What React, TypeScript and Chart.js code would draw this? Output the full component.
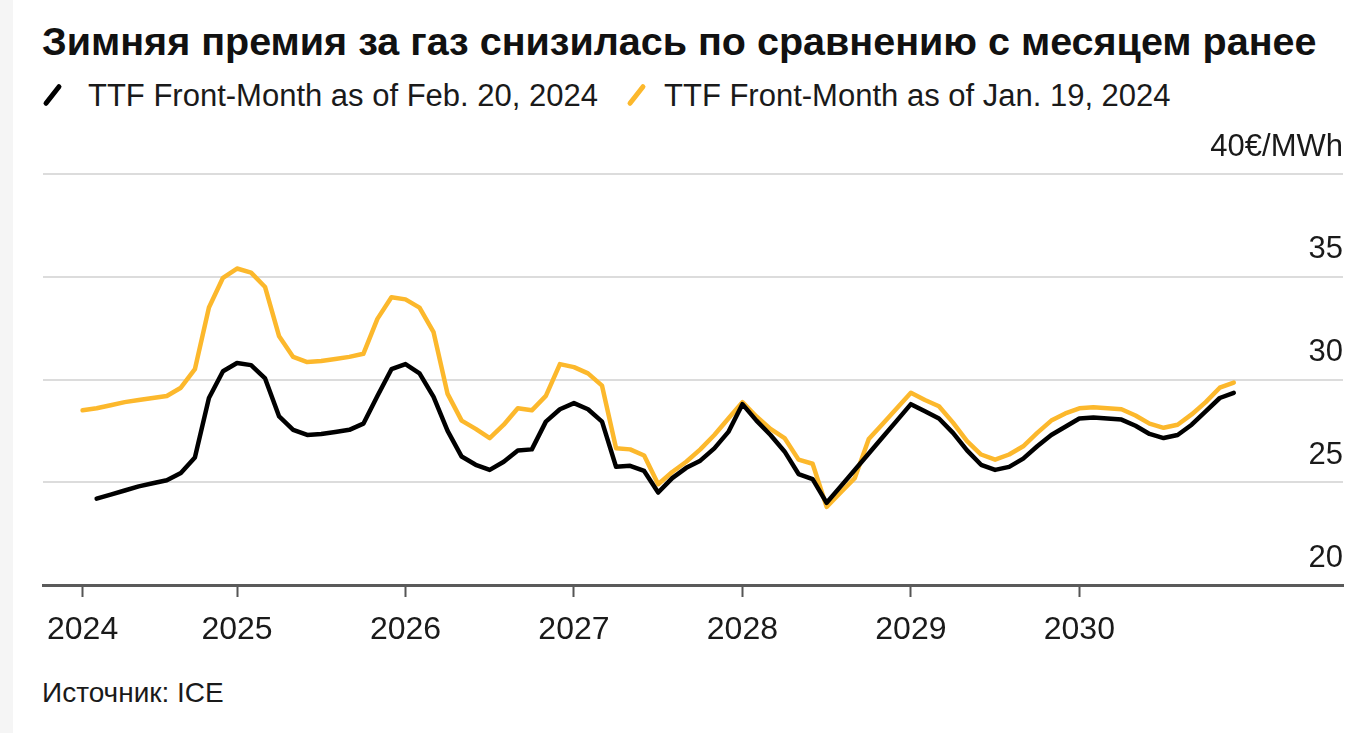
import React, { useEffect, useRef } from 'react';
import { Chart, registerables } from 'chart.js';

Chart.register(...registerables);

const TITLE = 'Зимняя премия за газ снизилась по сравнению с месяцем ранее';
const SERIES_NAMES = ['TTF Front-Month as of Feb. 20, 2024', 'TTF Front-Month as of Jan. 19, 2024'];
const SOURCE = 'Источник: ICE';

// x values are months counted from Jan 2024 (0 = Jan 2024)
const YEAR_TICK_MONTHS = [1, 12, 24, 36, 48, 60, 72];
const YEAR_TICK_LABELS = ['2024', '2025', '2026', '2027', '2028', '2029', '2030'];
const Y_TICKS = [20, 25, 30, 35, 40];
const Y_UNIT = '€/MWh';

// TTF forward curve as of Feb. 20, 2024 (first contract: Mar 2024)
const FEB20_START_MONTH = 2;
const FEB20_VALUES = [
  24.2, 24.4, 24.6, 24.8, 24.95, 25.1, 25.45, 26.2, 29.1,
  30.4, 30.8, 30.7, 30.05, 28.2, 27.55, 27.3, 27.35, 27.45, 27.55,
  27.85, 29.2, 30.5, 30.75, 30.3, 29.15, 27.5, 26.25, 25.85, 25.6,
  26.0, 26.55, 26.6, 27.95, 28.55, 28.85, 28.55, 27.95, 25.75, 25.8,
  25.55, 24.5, 25.2, 25.7, 26.05, 26.65, 27.45, 28.8, 28.0, 27.3,
  26.5, 25.4, 25.15, 24.0, 24.8, 25.6, 26.4, 27.2, 28.0, 28.8,
  28.45, 28.1, 27.4, 26.55, 25.85, 25.6, 25.75, 26.15, 26.75, 27.3,
  27.7, 28.1, 28.15, 28.1, 28.05, 27.75, 27.35, 27.15, 27.3, 27.8,
  28.45, 29.1, 29.35,
];

// TTF forward curve as of Jan. 19, 2024 (first contract: Feb 2024)
const JAN19_START_MONTH = 1;
const JAN19_VALUES = [
  28.5, 28.6, 28.75, 28.9, 29.0, 29.1, 29.2, 29.6, 30.5, 33.5,
  34.95, 35.4, 35.2, 34.5, 32.1, 31.1, 30.85, 30.9, 31.0, 31.1,
  31.25, 32.95, 34.0, 33.9, 33.5, 32.3, 29.3, 28.0, 27.6, 27.15,
  27.8, 28.6, 28.5, 29.2, 30.75, 30.6, 30.3, 29.7, 26.65, 26.6,
  26.3, 24.9, 25.5, 26.0, 26.6, 27.3, 28.1, 28.9, 28.2, 27.6,
  27.15, 26.1, 25.9, 23.8, 24.5, 25.2, 27.1, 27.85, 28.6, 29.35,
  29.0, 28.7, 27.9, 27.0, 26.35, 26.1, 26.35, 26.75, 27.4, 28.0,
  28.35, 28.6, 28.65, 28.6, 28.55, 28.25, 27.85, 27.65, 27.8, 28.3,
  28.9, 29.6, 29.85,
];

const BLACK = '#000000';
const YELLOW = '#FCB82C';
const FONT = '"Liberation Sans", Arial, Helvetica, sans-serif';

const CANVAS_TOP = 110;
const CANVAS_H = 535;
const X_AXIS_H = 60;

function toPoints(start: number, values: number[]) {
  return values.map((v, i) => ({ x: start + i, y: v }));
}

export default function App() {
  const canvasRef = useRef<HTMLCanvasElement | null>(null);

  useEffect(() => {
    if (!canvasRef.current) return;
    const chart = new Chart(canvasRef.current, {
      type: 'line',
      data: {
        datasets: [
          {
            label: SERIES_NAMES[0],
            data: toPoints(FEB20_START_MONTH, FEB20_VALUES),
            borderColor: BLACK,
            backgroundColor: BLACK,
            borderWidth: 4.5,
            pointRadius: 0,
            tension: 0,
            borderJoinStyle: 'round',
            borderCapStyle: 'round',
          },
          {
            label: SERIES_NAMES[1],
            data: toPoints(JAN19_START_MONTH, JAN19_VALUES),
            borderColor: YELLOW,
            backgroundColor: YELLOW,
            borderWidth: 4.5,
            pointRadius: 0,
            tension: 0,
            borderJoinStyle: 'round',
            borderCapStyle: 'round',
          },
        ],
      },
      options: {
        animation: false,
        responsive: false,
        maintainAspectRatio: false,
        layout: { padding: { left: 43, right: 25, top: 64, bottom: 0 } },
        plugins: { legend: { display: false }, tooltip: { enabled: false }, title: { display: false } },
        scales: {
          x: {
            type: 'linear',
            position: 'bottom',
            min: -1.82,
            max: 90.78,
            afterBuildTicks: (s: any) => {
              s.ticks = YEAR_TICK_MONTHS.map((v) => ({ value: v }));
            },
            afterFit: (s: any) => {
              s.height = X_AXIS_H;
            },
            ticks: {
              autoSkip: false,
              maxRotation: 0,
              minRotation: 0,
              padding: 17,
              color: '#1a1a1a',
              font: { family: FONT, size: 32, lineHeight: 1 },
              callback: (_v: any, i: number) => YEAR_TICK_LABELS[i],
            },
            grid: {
              drawOnChartArea: false,
              drawTicks: true,
              tickLength: 12,
              tickColor: '#555555',
              tickWidth: 2,
              color: '#555555',
            },
            border: { display: true, color: '#5a5a5a', width: 3 },
          },
          y: {
            type: 'linear',
            position: 'right',
            min: 20,
            max: 40,
            afterBuildTicks: (s: any) => {
              s.ticks = Y_TICKS.map((v) => ({ value: v }));
            },
            afterFit: (s: any) => {
              s.width = 0;
            },
            ticks: {
              mirror: true,
              padding: 0,
              labelOffset: -27,
              color: '#1a1a1a',
              font: { family: FONT, size: 31, lineHeight: 1 },
              callback: (v: any) => (v === 40 ? `${v}${Y_UNIT}` : String(v)),
            },
            grid: {
              drawTicks: false,
              lineWidth: 2,
              color: (ctx: any) => (ctx.tick && ctx.tick.value === 20 ? 'rgba(0,0,0,0)' : '#dcdcdc'),
            },
            border: { display: false },
          },
        },
      },
    } as any);
    return () => chart.destroy();
  }, []);

  const slash = (color: string) => (
    <span
      style={{
        display: 'inline-block',
        width: 20,
        height: 31,
        position: 'relative',
        flex: '0 0 auto',
      }}
    >
      <span
        style={{
          position: 'absolute',
          left: 8,
          top: 2,
          width: 5,
          height: 26,
          borderRadius: 3,
          background: color,
          transform: 'rotate(38deg)',
        }}
      />
    </span>
  );

  return (
    <div
      style={{
        position: 'absolute',
        left: 0,
        top: 0,
        width: 1368,
        height: 733,
        background: '#ffffff',
        overflow: 'hidden',
        fontFamily: FONT,
      }}
    >
      <div style={{ position: 'absolute', left: 0, top: 0, width: 13, height: 733, background: '#f5f5f5' }} />
      <div
        style={{
          position: 'absolute',
          left: 42,
          top: 22,
          fontSize: 39.5,
          lineHeight: '39px',
          fontWeight: 700,
          color: '#111111',
          whiteSpace: 'nowrap',
        }}
      >
        {TITLE}
      </div>
      <div
        style={{
          position: 'absolute',
          left: 42,
          top: 80,
          display: 'flex',
          alignItems: 'center',
          fontSize: 31,
          lineHeight: '31px',
          color: '#1a1a1a',
          whiteSpace: 'nowrap',
        }}
      >
        {slash(BLACK)}
        <span style={{ marginLeft: 26 }}>{SERIES_NAMES[0]}</span>
        <span style={{ marginLeft: 28, display: 'inline-flex' }}>{slash(YELLOW)}</span>
        <span style={{ marginLeft: 18 }}>{SERIES_NAMES[1]}</span>
      </div>
      <canvas
        ref={canvasRef}
        width={1368}
        height={CANVAS_H}
        style={{ position: 'absolute', left: 0, top: CANVAS_TOP, width: 1368, height: CANVAS_H }}
      />
      <div
        style={{
          position: 'absolute',
          left: 42,
          top: 679,
          fontSize: 28,
          lineHeight: '28px',
          color: '#1a1a1a',
          whiteSpace: 'nowrap',
        }}
      >
        {SOURCE}
      </div>
    </div>
  );
}
